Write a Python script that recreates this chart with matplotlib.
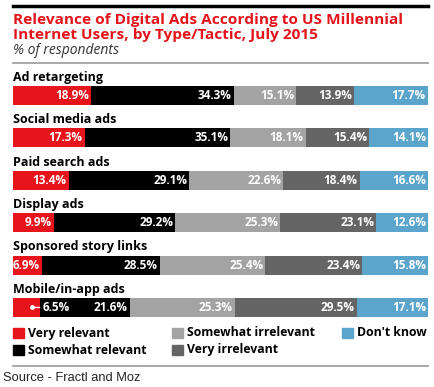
import numpy as np
import matplotlib.pyplot as plt
from matplotlib.patches import Rectangle

# data
categories = ['Ad retargeting', 'Social media ads', 'Paid search ads',
              'Display ads', 'Sponsored story links', 'Mobile/in-app ads']
very_relevant = [18.9, 17.3, 13.4, 9.9, 6.9, 6.5]
somewhat_relevant = [34.3, 35.1, 29.1, 29.2, 28.5, 21.6]
somewhat_irrelevant = [15.1, 18.1, 22.6, 25.3, 25.4, 25.3]
very_irrelevant = [13.9, 15.4, 18.4, 23.1, 23.4, 29.5]
dont_know = [17.7, 14.1, 16.6, 12.6, 15.8, 17.1]

series = [very_relevant, somewhat_relevant, somewhat_irrelevant, very_irrelevant, dont_know]
names = ['Very relevant', 'Somewhat relevant', 'Somewhat irrelevant', 'Very irrelevant', "Don't know"]
colors = ['#e8141c', '#000000', '#a3a3a3', '#656565', '#5ba4cb']

W, H = 434, 387
fig = plt.figure(figsize=(W / 100, H / 100), dpi=100)
fig.patch.set_facecolor('white')

def fx(px):
    return px / W

def fy(py):
    return 1 - py / H

# header
fig.add_artist(plt.Line2D([fx(13), fx(428)], [fy(6), fy(6)], color='black', lw=2.5))
fig.text(fx(13), fy(20), 'Relevance of Digital Ads According to US Millennial',
         color='#e3141b', fontsize=11.1, fontweight='bold', family='Open Sans', va='center')
fig.text(fx(13), fy(35), 'Internet Users, by Type/Tactic, July 2015',
         color='#e3141b', fontsize=11.1, fontweight='bold', family='Open Sans', va='center')
fig.text(fx(13), fy(50), '% of respondents', color='#333333', fontsize=10, style='italic',
         family='Open Sans', va='center')
fig.add_artist(plt.Line2D([fx(13), fx(428)], [fy(63), fy(63)], color='#999999', lw=1.2))

# bars
ax = fig.add_axes([fx(13), fy(317), fx(428) - fx(13), (317 - 86) / H])
n = len(categories)
y = np.arange(n)
h = 0.45
left = np.zeros(n)
for vals, c in zip(series, colors):
    vals = np.array(vals)
    ax.barh(y, vals, left=left, height=h, color=c, linewidth=0)
    for i in range(n):
        if not (c == colors[0] and i == n - 1):
            ax.text(left[i] + vals[i] - 0.5, y[i], f'{vals[i]:.1f}%', ha='right', va='center',
                    color='white', fontsize=8.5, fontweight='bold', family='Open Sans')
    left = left + vals

# small red value on mobile row sits outside its segment
i = n - 1
ax.annotate(f'{very_relevant[i]:.1f}%', xy=(very_relevant[i] * 0.7, y[i]),
            xytext=(very_relevant[i] + 0.6, y[i]), ha='left', va='center',
            color='white', fontsize=8.5, fontweight='bold', family='Open Sans',
            arrowprops=dict(arrowstyle='-', color='white', lw=1, shrinkA=0, shrinkB=0))
ax.plot(very_relevant[i] * 0.7, y[i], 'o', color='white', ms=2.5)

for i, cat in enumerate(categories):
    ax.text(0, y[i] - h / 2 - 0.05, cat, ha='left', va='bottom', fontsize=9,
            fontweight='bold', family='Open Sans', color='black')

ax.set_xlim(0, 100)
ax.set_ylim(n - 1 + h / 2, -h / 2)
ax.axis('off')

# legend
legend_pos = [(13, 333), (13, 350), (172, 333), (172, 350), (342, 333)]
for (px, py), name, c in zip(legend_pos, names, colors):
    fig.add_artist(Rectangle((fx(px), fy(py + 5)), 11 / W, 10 / H, color=c, transform=fig.transFigure))
    fig.text(fx(px + 15), fy(py), name, fontsize=8.8, fontweight='bold', family='Open Sans',
             va='center', ha='left')

fig.add_artist(plt.Line2D([fx(13), fx(428)], [fy(366), fy(366)], color='#999999', lw=1.2))
fig.text(fx(3), fy(378), 'Source - Fractl and Moz', fontsize=9.3, family='Liberation Sans',
         va='center', ha='left', color='#222222')

fig.savefig('out.png', dpi=100)
